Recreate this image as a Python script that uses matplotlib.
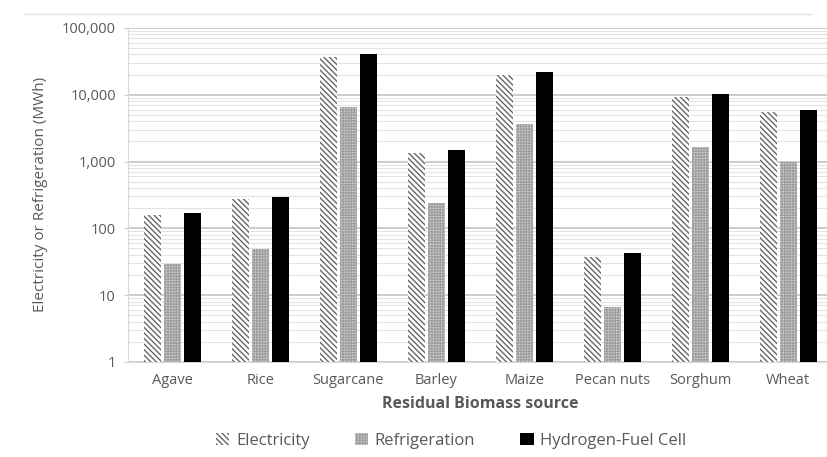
import numpy as np
import matplotlib.pyplot as plt
from matplotlib.ticker import FuncFormatter, LogLocator

plt.rcParams['font.family'] = ['Open Sans', 'DejaVu Sans']
plt.rcParams['hatch.linewidth'] = 1.0

# data
sources = ['Agave', 'Rice', 'Sugarcane', 'Barley', 'Maize', 'Pecan nuts', 'Sorghum', 'Wheat']
electricity = [158, 275, 37000, 1340, 20000, 37, 9300, 5500]
refrigeration = [29, 49, 6600, 240, 3650, 6.6, 1660, 990]
hydrogen = [170, 295, 40000, 1490, 22000, 43, 10300, 5900]

txt = '#595959'

# figure
fig = plt.figure(figsize=(8.28, 4.57), dpi=100, facecolor='white')
ax = fig.add_axes([0.155, 0.208, 0.85, 0.731])

x = np.arange(len(sources))
w = 0.195
ax.bar(x - 0.227, electricity, w, color='white', edgecolor='#666666', hatch='\\' * 6, linewidth=0, label='Electricity', zorder=3)
ax.bar(x, refrigeration, w, color='#d8d8d8', edgecolor='#a0a0a0', hatch='+' * 6, linewidth=0, label='Refrigeration', zorder=3)
ax.bar(x + 0.227, hydrogen, w, color='black', edgecolor='black', linewidth=0, label='Hydrogen-Fuel Cell', zorder=3)

# axes
ax.set_yscale('log')
ax.set_ylim(1, 100000)
ax.set_xlim(-0.5, 7.5)
ax.yaxis.set_major_formatter(FuncFormatter(lambda v, p: f'{v:,.0f}'))
ax.yaxis.set_minor_locator(LogLocator(base=10, subs=np.arange(2, 10)))
ax.set_xticks(x)
ax.set_xticklabels(sources)
ax.tick_params(axis='both', colors=txt, labelsize=10.5, length=0, pad=8)
ax.tick_params(axis='y', which='major', length=3, color='#d0d0d0', pad=6)
ax.tick_params(axis='y', which='minor', length=0)

# grid
ax.set_axisbelow(True)
ax.yaxis.grid(True, which='major', color='#c4c4c4', linewidth=1.2)
ax.yaxis.grid(True, which='minor', color='#e3e3e3', linewidth=0.8)

for s in ['top', 'right']:
    ax.spines[s].set_visible(False)
ax.spines['left'].set_color('#d9d9d9')
ax.spines['bottom'].set_color('#d9d9d9')

ax.set_ylabel('Electricity or Refrigeration (MWh)', color=txt, fontsize=11, labelpad=10)
ax.set_xlabel('Residual Biomass source', color=txt, fontsize=11.5, fontweight='bold', labelpad=6)

leg = fig.legend(loc='lower center', ncol=3, bbox_to_anchor=(0.545, -0.015), frameon=False,
                 fontsize=12, handlelength=0.8, handleheight=0.8, columnspacing=2.7, handletextpad=0.4)
for t in leg.get_texts():
    t.set_color(txt)

fig.add_artist(plt.Line2D([0.03, 0.98], [0.97, 0.97], color='#e0e0e0', linewidth=1))

plt.savefig('out.png', dpi=100, facecolor='white')
